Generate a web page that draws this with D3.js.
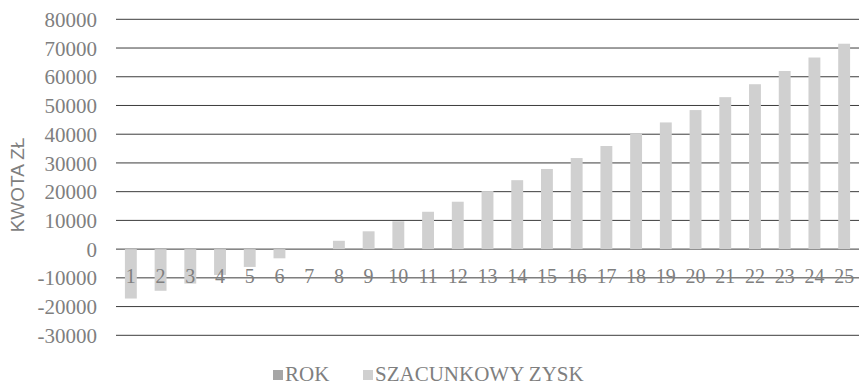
<!DOCTYPE html>
<html>
<head>
<meta charset="utf-8">
<script src="https://cdn.jsdelivr.net/npm/d3@7"></script>
<style>
  html, body { margin: 0; padding: 0; background: #fff; }
  svg { display: block; }
  .serif { font-family: "Liberation Serif", "Times New Roman", "DejaVu Serif", serif; fill: #7f7f7f; }
  .sans { font-family: "Liberation Sans", Arial, sans-serif; fill: #7f7f7f; }
</style>
</head>
<body>
<svg id="chart" width="859" height="384"></svg>
<script>
// Year numbers (series "ROK") used as the categories
const years = [1,2,3,4,5,6,7,8,9,10,11,12,13,14,15,16,17,18,19,20,21,22,23,24,25];
// Estimated profit per year (series "SZACUNKOWY ZYSK"), PLN
const profit = [-17200,-14500,-12000,-9000,-6200,-3200,0,2900,6200,9700,13000,16500,
                20200,24000,27900,31700,35900,40200,44100,48400,52900,57400,62000,66700,71500];
const yTicks = [-30000,-20000,-10000,0,10000,20000,30000,40000,50000,60000,70000,80000];
const seriesNames = ["ROK", "SZACUNKOWY ZYSK"];
const seriesColors = ["#a6a6a6", "#d0d0d0"];

const svg = d3.select("#chart");

const x = d3.scaleBand().domain(years).range([116, 859]).paddingInner(0.6).paddingOuter(0.3);
const y = d3.scaleLinear().domain([-30000, 80000]).range([335.3, 19.3]);

// Horizontal gridlines
svg.append("g")
  .selectAll("line")
  .data(yTicks)
  .join("line")
  .attr("x1", 116).attr("x2", 859)
  .attr("y1", d => y(d)).attr("y2", d => y(d))
  .attr("stroke", "#3c3c3c")
  .attr("stroke-width", 1);

// Value axis labels (plain hyphen for negatives)
const yAxis = d3.axisLeft(y).tickValues(yTicks).tickSize(0).tickPadding(0).tickFormat(d => String(d));
const gy = svg.append("g").attr("transform", "translate(97,0)").call(yAxis);
gy.select(".domain").remove();
gy.attr("font-family", null).attr("font-size", null);
gy.selectAll("text")
  .attr("class", "serif")
  .attr("fill", null)
  .style("font-size", "21px")
  .attr("dy", "0.34em");

// Profit bars
svg.append("g")
  .selectAll("rect")
  .data(profit)
  .join("rect")
  .attr("x", (d, i) => x(years[i]))
  .attr("width", x.bandwidth())
  .attr("y", d => y(Math.max(0, d)))
  .attr("height", d => Math.abs(y(d) - y(0)))
  .attr("fill", seriesColors[1]);

// Category labels along the -10000 line
const xAxis = d3.axisBottom(x).tickSize(0).tickPadding(0);
const gx = svg.append("g").attr("transform", `translate(0,${y(-10000)})`).call(xAxis);
gx.select(".domain").remove();
gx.attr("font-family", null).attr("font-size", null);
gx.selectAll("text")
  .attr("class", "serif")
  .attr("fill", null)
  .style("font-size", "20px")
  .attr("dy", null).attr("y", 5);

// Axis title
svg.append("text")
  .attr("class", "sans")
  .attr("transform", "translate(24,185) rotate(-90)")
  .attr("text-anchor", "middle")
  .style("font-size", "19px")
  .text("KWOTA ZŁ");

// Legend
const legendX = [273, 363];
const legend = svg.append("g");
seriesNames.forEach((name, i) => {
  legend.append("rect")
    .attr("x", legendX[i]).attr("y", 370).attr("width", 10).attr("height", 10)
    .attr("fill", seriesColors[i]);
  legend.append("text")
    .attr("class", "serif")
    .attr("x", legendX[i] + 12).attr("y", 381)
    .style("font-size", "21px")
    .text(name);
});
</script>
</body>
</html>
